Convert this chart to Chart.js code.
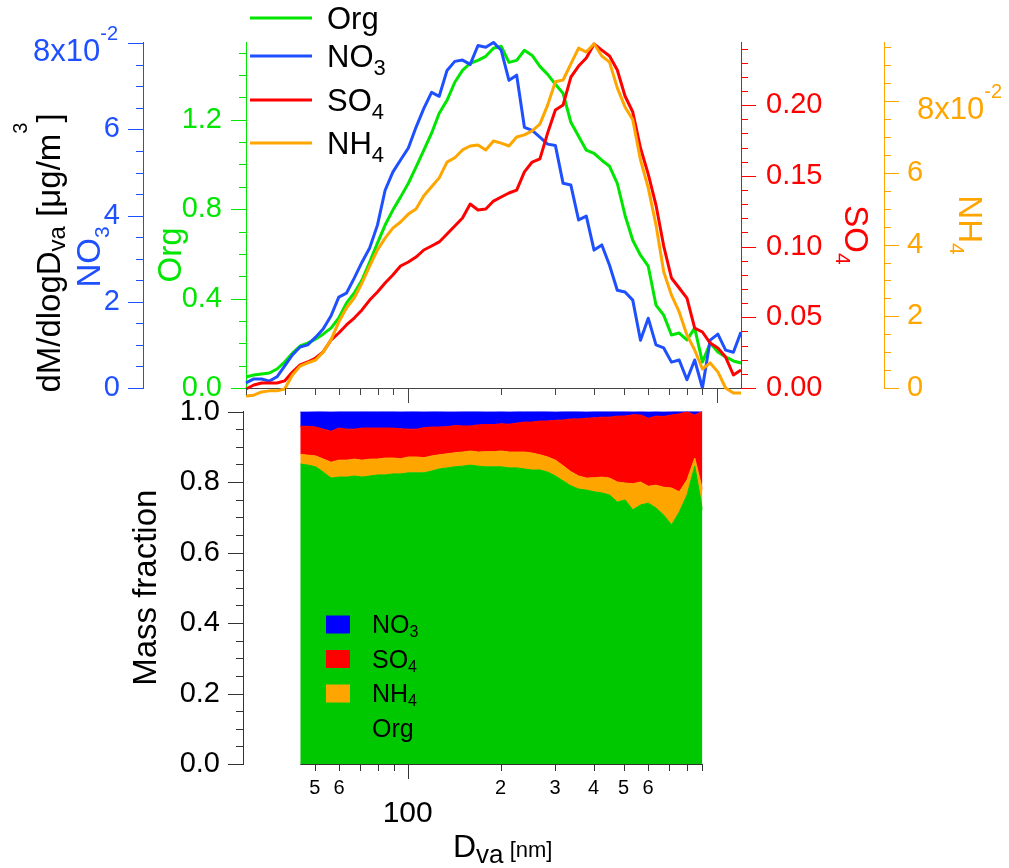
<!DOCTYPE html>
<html>
<head>
<meta charset="utf-8">
<title>Size-resolved aerosol composition</title>
<script src="https://cdn.jsdelivr.net/npm/chart.js@4.4.1/dist/chart.umd.min.js"></script>
<style>
  html, body { margin: 0; background: #fff; }
  #wrap { position: relative; width: 1009px; height: 868px; overflow: hidden; }
  canvas { position: absolute; left: 0; }
  #topChart { top: 0; }
  #fracChart { top: 395px; }
</style>
</head>
<body>
<div id="wrap">
  <canvas id="topChart" width="1009" height="420"></canvas>
  <canvas id="fracChart" width="1009" height="473"></canvas>
</div>
<script>
// vacuum aerodynamic diameter, nm
const sizeNm = [30.0, 31.8, 33.7, 35.7, 37.8, 40.0, 42.4, 44.9, 47.5, 50.4,
  53.3, 56.5, 59.9, 63.4, 67.2, 71.2, 75.4, 79.9, 84.6, 89.6,
  94.9, 100.6, 106.5, 112.9, 119.6, 126.6, 134.2, 142.2, 150.6, 159.5,
  169.0, 179.1, 189.7, 200.9, 212.9, 225.5, 238.9, 253.1, 268.1, 284.0,
  300.9, 318.7, 337.7, 357.7, 378.9, 401.4, 425.3, 450.5, 477.3, 505.6,
  535.6, 567.4, 601.1, 636.8, 674.6, 714.7, 757.1, 802.1, 849.7, 900.2,
  953.6, 1010, 1070, 1134, 1200]

// dM/dlogDva, ug/m3
const orgMass = [0.049, 0.058, 0.063, 0.067, 0.085, 0.116, 0.156, 0.188, 0.201, 0.219,
  0.241, 0.268, 0.313, 0.380, 0.425, 0.483, 0.563, 0.648, 0.729, 0.796,
  0.854, 0.916, 0.988, 1.064, 1.140, 1.229, 1.287, 1.368, 1.421, 1.453,
  1.466, 1.484, 1.520, 1.529, 1.457, 1.466, 1.511, 1.488, 1.439, 1.403,
  1.359, 1.318, 1.189, 1.126, 1.064, 1.050, 1.019, 0.992, 0.916, 0.773,
  0.661, 0.594, 0.545, 0.371, 0.326, 0.237, 0.246, 0.215, 0.268, 0.116,
  0.201, 0.161, 0.139, 0.121, 0.112]
const no3Mass = [0.0012, 0.0021, 0.0021, 0.0016, 0.0026, 0.0051, 0.0077, 0.0095, 0.0100, 0.0118,
  0.0137, 0.0167, 0.0211, 0.0220, 0.0255, 0.0292, 0.0325, 0.0378, 0.0459, 0.0501,
  0.0529, 0.0557, 0.0605, 0.0649, 0.0686, 0.0677, 0.0737, 0.0758, 0.0761, 0.0751,
  0.0795, 0.0791, 0.0802, 0.0784, 0.0714, 0.0726, 0.0605, 0.0598, 0.0582, 0.0566,
  0.0563, 0.0475, 0.0471, 0.0390, 0.0399, 0.0320, 0.0332, 0.0285, 0.0227, 0.0223,
  0.0204, 0.0111, 0.0162, 0.0100, 0.0093, 0.0060, 0.0065, 0.0019, 0.0065, 0.0000,
  0.0111, 0.0125, 0.0088, 0.0083, 0.0130]
const so4Mass = [-0.0007, 0.0021, 0.0035, 0.0035, 0.0035, 0.0050, 0.0113, 0.0163, 0.0184, 0.0212,
  0.0255, 0.0339, 0.0389, 0.0446, 0.0495, 0.0552, 0.0622, 0.0679, 0.0743, 0.0799,
  0.0863, 0.0891, 0.0926, 0.0976, 0.1004, 0.1033, 0.1089, 0.1146, 0.1202, 0.1301,
  0.1259, 0.1266, 0.1322, 0.1351, 0.1379, 0.1400, 0.1528, 0.1598, 0.1620, 0.1803,
  0.1966, 0.2001, 0.2199, 0.2277, 0.2334, 0.2433, 0.2390, 0.2348, 0.2249, 0.2065,
  0.1952, 0.1697, 0.1513, 0.1294, 0.1004, 0.0778, 0.0707, 0.0636, 0.0424, 0.0396,
  0.0318, 0.0283, 0.0219, 0.0092, 0.0127]
const nh4Mass = [-0.0022, -0.0020, -0.0011, -0.0008, -0.0008, -0.0003, 0.0036, 0.0061, 0.0070, 0.0078,
  0.0100, 0.0134, 0.0184, 0.0223, 0.0251, 0.0293, 0.0340, 0.0385, 0.0418, 0.0446,
  0.0463, 0.0485, 0.0499, 0.0536, 0.0561, 0.0586, 0.0630, 0.0642, 0.0664, 0.0675,
  0.0678, 0.0664, 0.0689, 0.0683, 0.0675, 0.0700, 0.0706, 0.0717, 0.0736, 0.0789,
  0.0854, 0.0859, 0.0904, 0.0948, 0.0937, 0.0960, 0.0926, 0.0909, 0.0837, 0.0784,
  0.0748, 0.0636, 0.0558, 0.0455, 0.0324, 0.0259, 0.0212, 0.0148, 0.0106, 0.0053,
  0.0070, 0.0045, 0.0000, -0.0014, -0.0014]

// mass fractions, 45-900 nm
const fracSize = sizeNm.slice(7, 60)
const orgFrac = [0.851, 0.848, 0.843, 0.828, 0.811, 0.814, 0.814, 0.817, 0.814, 0.817,
  0.820, 0.820, 0.823, 0.823, 0.826, 0.826, 0.826, 0.831, 0.837, 0.840,
  0.843, 0.845, 0.848, 0.845, 0.843, 0.843, 0.843, 0.840, 0.840, 0.837,
  0.834, 0.834, 0.828, 0.817, 0.803, 0.789, 0.780, 0.777, 0.772, 0.769,
  0.763, 0.743, 0.749, 0.721, 0.735, 0.740, 0.726, 0.706, 0.678, 0.715,
  0.763, 0.845, 0.721]
const nh4Frac = [0.028, 0.028, 0.031, 0.037, 0.045, 0.048, 0.048, 0.048, 0.048, 0.048,
  0.045, 0.048, 0.045, 0.043, 0.045, 0.045, 0.043, 0.043, 0.040, 0.040,
  0.040, 0.040, 0.040, 0.040, 0.043, 0.043, 0.045, 0.045, 0.045, 0.048,
  0.048, 0.043, 0.043, 0.045, 0.043, 0.040, 0.037, 0.034, 0.040, 0.045,
  0.048, 0.057, 0.048, 0.074, 0.065, 0.048, 0.065, 0.079, 0.105, 0.057,
  0.043, 0.023, 0.057]
const so4Frac = [0.079, 0.082, 0.082, 0.085, 0.088, 0.091, 0.088, 0.085, 0.091, 0.088,
  0.088, 0.085, 0.085, 0.085, 0.079, 0.079, 0.085, 0.082, 0.079, 0.077,
  0.077, 0.074, 0.071, 0.077, 0.077, 0.077, 0.077, 0.079, 0.082, 0.085,
  0.088, 0.096, 0.102, 0.113, 0.130, 0.150, 0.162, 0.170, 0.170, 0.170,
  0.173, 0.187, 0.190, 0.196, 0.190, 0.193, 0.196, 0.201, 0.207, 0.221,
  0.193, 0.122, 0.223]
const no3Frac = [0.041, 0.041, 0.044, 0.050, 0.055, 0.047, 0.050, 0.050, 0.047, 0.047,
  0.047, 0.047, 0.047, 0.050, 0.050, 0.050, 0.047, 0.044, 0.044, 0.044,
  0.041, 0.041, 0.041, 0.038, 0.038, 0.038, 0.035, 0.035, 0.033, 0.030,
  0.030, 0.027, 0.027, 0.024, 0.024, 0.021, 0.021, 0.018, 0.018, 0.016,
  0.016, 0.013, 0.013, 0.010, 0.010, 0.018, 0.013, 0.013, 0.010, 0.007,
  0.001, 0.010, 0.000]

// ticks
const orgTicks = [0, 0.4, 0.8, 1.2]
const orgTickLabels = ['0.0', '0.4', '0.8', '1.2']
const orgMinor = [0.1, 0.2, 0.3, 0.5, 0.6, 0.7, 0.9, 1.0, 1.1, 1.3, 1.4, 1.5]
const no3Ticks = [0, 0.02, 0.04, 0.06, 0.08]
const no3TickLabels = ['0', '2', '4', '6', '8x10-2']
const no3Minor = [0.005, 0.01, 0.015, 0.025, 0.03, 0.035, 0.045, 0.05, 0.055, 0.065, 0.07, 0.075]
const so4Ticks = [0, 0.05, 0.10, 0.15, 0.20]
const so4TickLabels = ['0.00', '0.05', '0.10', '0.15', '0.20']
const so4Minor = [0.01, 0.02, 0.03, 0.04, 0.06, 0.07, 0.08, 0.09, 0.11, 0.12, 0.13, 0.14,
  0.16, 0.17, 0.18, 0.19, 0.21, 0.22, 0.23, 0.24]
const nh4Ticks = [0, 0.02, 0.04, 0.06, 0.08]
const nh4TickLabels = ['0', '2', '4', '6', '8x10-2']
const nh4Minor = [0.005, 0.01, 0.015, 0.025, 0.03, 0.035, 0.045, 0.05, 0.055, 0.065, 0.07, 0.075, 0.085, 0.09, 0.095]
const sizeMajor = [100, 1000]
const sizeMinor = [30, 40, 50, 60, 70, 80, 90, 200, 300, 400, 500, 600, 700, 800, 900]
const fracTicks = [0, 0.2, 0.4, 0.6, 0.8, 1.0]
const fracTickLabels = ['0.0', '0.2', '0.4', '0.6', '0.8', '1.0']
const fracMinor = [0.05, 0.1, 0.15, 0.25, 0.3, 0.35, 0.45, 0.5, 0.55, 0.65, 0.7, 0.75, 0.85, 0.9, 0.95]
const fracSizeTicks = [50, 60, 100, 200, 300, 400, 500, 600]
const fracSizeLabels = ['5', '6', '100', '2', '3', '4', '5', '6']
const fracSizeMajor = [100]
const fracSizeMinor = [50, 60, 70, 80, 90, 200, 300, 400, 500, 600, 700, 800, 900]

const FONT = '"Liberation Sans", Arial, Helvetica, sans-serif'
const BLUE = '#1e50ff'
const GREEN = '#00e600'
const RED = '#ff0000'
const ORANGE = '#ffa500'
const AXIS = '#444'

Chart.defaults.font.family = FONT

// text with sub/superscripts, parts = [{t, size, dy}]
function drawParts(ctx, parts, x, y, rot, color, align) {
  ctx.save()
  ctx.translate(x, y)
  ctx.rotate(rot || 0)
  ctx.fillStyle = color
  ctx.textBaseline = 'alphabetic'
  ctx.textAlign = 'left'
  let total = 0
  parts.forEach(p => {
    ctx.font = p.size + 'px ' + FONT
    p.w = ctx.measureText(p.t).width
    total += p.w
  })
  let cx = align == 'center' ? -total / 2 : (align == 'right' ? -total : 0)
  parts.forEach(p => {
    ctx.font = p.size + 'px ' + FONT
    ctx.fillText(p.t, cx, p.dy || 0)
    cx += p.w
  })
  ctx.restore()
}

// 'NO3' -> NO + subscript 3
function chemParts(label, size, subSize, subDy) {
  const m = label.match(/^(.*?)(\d*)$/)
  const parts = [{ t: m[1], size: size }]
  if (m[2]) parts.push({ t: m[2], size: subSize, dy: subDy })
  return parts
}

function drawTicks(chart, id, major, minor, side, color) {
  const s = chart.scales[id]
  const ctx = chart.ctx
  ctx.save()
  ctx.strokeStyle = color
  ctx.lineWidth = 1
  const all = major.map(v => [v, 15]).concat(minor.map(v => [v, 7]))
  all.forEach(([v, len]) => {
    const p = Math.round(s.getPixelForValue(v)) + 0.5
    ctx.beginPath()
    if (side == 'left') { ctx.moveTo(s.right, p); ctx.lineTo(s.right - len, p) }
    else if (side == 'right') { ctx.moveTo(s.left, p); ctx.lineTo(s.left + len, p) }
    else { ctx.moveTo(p, s.top); ctx.lineTo(p, s.top + len) }
    ctx.stroke()
  })
  ctx.restore()
}

// labels like 8x10-2 get a raised exponent
function drawExpLabel(chart, id, values, labels, x, align, color) {
  const s = chart.scales[id]
  labels.forEach((lab, i) => {
    if (!lab.includes('x10')) return
    const cut = lab.indexOf('x10') + 3
    const y = s.getPixelForValue(values[i]) + 18
    drawParts(chart.ctx, [{ t: lab.slice(0, cut), size: 31 }, { t: lab.slice(cut), size: 20, dy: -21 }], x, y, 0, color, align)
  })
}

// fixed box sizes, no extra label padding from chart.js
const fixWidth = w => s => { s.width = w; s.paddingTop = 0; s.paddingBottom = 0 }
const fixHeight = h => s => { s.height = h; s.paddingLeft = 0; s.paddingRight = 0 }

function yAxis(pos, weight, max, color, values, labels, pad, width) {
  return {
    position: pos,
    weight: weight,
    min: 0,
    max: max,
    grid: { display: false, drawTicks: false },
    border: { color: color, width: 1 },
    ticks: {
      color: color,
      padding: pad,
      font: { size: 29 },
      callback: (v, i) => labels[i].includes('x10') ? '' : labels[i]
    },
    afterBuildTicks: s => { s.ticks = values.map(v => ({ value: v })) },
    afterFit: fixWidth(width)
  }
}

const topDecor = {
  id: 'topDecor',
  afterDraw(chart) {
    const ctx = chart.ctx
    const ds = chart.data.datasets
    drawTicks(chart, 'x', sizeMajor, sizeMinor, 'bottom', AXIS)
    drawTicks(chart, 'yNO3', no3Ticks, no3Minor, 'left', BLUE)
    drawTicks(chart, 'yOrg', orgTicks, orgMinor, 'left', GREEN)
    drawTicks(chart, 'ySO4', so4Ticks, so4Minor, 'right', RED)
    drawTicks(chart, 'yNH4', nh4Ticks, nh4Minor, 'right', ORANGE)
    drawExpLabel(chart, 'yNO3', no3Ticks, no3TickLabels, 118, 'right', BLUE)
    drawExpLabel(chart, 'yNH4', nh4Ticks, nh4TickLabels, 917, 'left', ORANGE)

    // axis titles
    drawParts(ctx, [
      { t: 'dM/dlogD', size: 33 }, { t: 'va', size: 24, dy: 5 },
      { t: ' [μg/m', size: 33 }, { t: '3', size: 20, dy: -33 }, { t: ']', size: 33 }
    ], 60, 253, -Math.PI / 2, '#000', 'center')
    drawParts(ctx, chemParts(ds[1].label, 33, 21, 9), 100, 257, -Math.PI / 2, BLUE, 'center')
    drawParts(ctx, chemParts(ds[0].label, 33, 21, 9), 181, 255, -Math.PI / 2, GREEN, 'center')
    drawParts(ctx, chemParts(ds[2].label, 33, 21, 9), 845, 235, Math.PI / 2, RED, 'center')
    drawParts(ctx, chemParts(ds[3].label, 33, 21, 9), 959, 225, Math.PI / 2, ORANGE, 'center')

    // legend
    const rows = [18, 56, 100, 143]
    ds.forEach((d, i) => {
      ctx.save()
      ctx.strokeStyle = d.borderColor
      ctx.lineWidth = 3
      ctx.beginPath()
      ctx.moveTo(250, rows[i])
      ctx.lineTo(312, rows[i])
      ctx.stroke()
      ctx.restore()
      drawParts(ctx, chemParts(d.label, 31, 22, 8), 327, rows[i] + 11, 0, '#000', 'left')
    })
  }
}

const pts = arr => sizeNm.map((d, i) => ({ x: d, y: arr[i] }))

const topChart = new Chart(document.getElementById('topChart'), {
  type: 'line',
  data: {
    datasets: [
      { label: 'Org', data: pts(orgMass), yAxisID: 'yOrg', borderColor: GREEN, order: 3, clip: false },
      { label: 'NO3', data: pts(no3Mass), yAxisID: 'yNO3', borderColor: BLUE, order: 2, clip: false },
      { label: 'SO4', data: pts(so4Mass), yAxisID: 'ySO4', borderColor: RED, order: 1, clip: false },
      { label: 'NH4', data: pts(nh4Mass), yAxisID: 'yNH4', borderColor: ORANGE, order: 0, clip: false }
    ]
  },
  options: {
    animation: false,
    responsive: false,
    events: [],
    layout: { padding: { top: 42, left: 0, right: 0, bottom: 0 } },
    elements: {
      line: { borderWidth: 3, tension: 0, borderJoinStyle: 'round', fill: false },
      point: { radius: 0 }
    },
    plugins: { legend: { display: false }, tooltip: { enabled: false } },
    scales: {
      x: {
        type: 'logarithmic',
        position: 'bottom',
        min: 30,
        max: 1200,
        ticks: { display: false },
        grid: { display: false, drawTicks: false },
        border: { color: AXIS, width: 1 },
        afterFit: fixHeight(32)
      },
      yNO3: yAxis('left', 2, 0.0803, BLUE, no3Ticks, no3TickLabels, 23, 143),
      yOrg: yAxis('left', 1, 1.548, GREEN, orgTicks, orgTickLabels, 24, 103),
      ySO4: yAxis('right', 1, 0.2447, RED, so4Ticks, so4TickLabels, 25, 143),
      yNH4: yAxis('right', 2, 0.0965, ORANGE, nh4Ticks, nh4TickLabels, 23, 125)
    }
  },
  plugins: [topDecor]
})

// ---- mass fraction panel ----
const F_GREEN = '#00c800'
const F_ORANGE = '#ffa500'
const F_RED = '#ff0000'
const F_BLUE = '#0000ff'

const fracDecor = {
  id: 'fracDecor',
  afterDraw(chart) {
    const ctx = chart.ctx
    const xs = chart.scales.x
    const y0 = Math.round(chart.chartArea.bottom) + 0.5
    ctx.save()
    ctx.strokeStyle = '#333'
    ctx.lineWidth = 1
    ctx.beginPath()
    ctx.moveTo(xs.getPixelForValue(fracSize[0]), y0)
    ctx.lineTo(xs.getPixelForValue(fracSize[fracSize.length - 1]), y0)
    ctx.stroke()
    ctx.restore()
    drawTicks(chart, 'x', fracSizeMajor, fracSizeMinor, 'bottom', '#333')
    drawTicks(chart, 'y', fracTicks, fracMinor, 'left', '#333')

    // legend, top entry first
    const ds = chart.data.datasets.slice().reverse()
    ds.forEach((d, i) => {
      const cy = 229.5 + i * 34.5
      ctx.fillStyle = d.backgroundColor
      ctx.fillRect(326, cy - 9, 24, 18)
      drawParts(ctx, chemParts(d.label, 25, 16, 4), 372, cy + 8.5, 0, '#000', 'left')
    })

    drawParts(ctx, [{ t: 'D', size: 32 }, { t: 'va', size: 26, dy: 6 }, { t: ' [nm]', size: 22 }],
      453, 462, 0, '#000', 'left')
  }
}

const fpts = arr => fracSize.map((d, i) => ({ x: d, y: arr[i] }))

const fracChart = new Chart(document.getElementById('fracChart'), {
  type: 'line',
  data: {
    datasets: [
      { label: 'Org', data: fpts(orgFrac), backgroundColor: F_GREEN, borderColor: F_GREEN, fill: 'origin' },
      { label: 'NH4', data: fpts(nh4Frac), backgroundColor: F_ORANGE, borderColor: F_ORANGE, fill: '-1' },
      { label: 'SO4', data: fpts(so4Frac), backgroundColor: F_RED, borderColor: F_RED, fill: '-1' },
      { label: 'NO3', data: fpts(no3Frac), backgroundColor: F_BLUE, borderColor: F_BLUE, fill: '-1' }
    ]
  },
  options: {
    animation: false,
    responsive: false,
    events: [],
    layout: { padding: { top: 16.5, left: 0, right: 306.5, bottom: 0 } },
    elements: {
      line: { borderWidth: 1, tension: 0 },
      point: { radius: 0 }
    },
    plugins: { legend: { display: false }, tooltip: { enabled: false } },
    scales: {
      x: {
        type: 'logarithmic',
        min: 29.3,
        max: 900.2,
        grid: { display: false, drawTicks: false },
        border: { display: false },
        ticks: {
          color: '#000',
          padding: 12.6,
          autoSkip: false,
          maxRotation: 0,
          minRotation: 0,
          font: ctx => (ctx.tick && ctx.tick.value == 100) ? { size: 30, lineHeight: 0.83 } : { size: 20 },
          callback: (v, i) => fracSizeLabels[i] == '100' ? ['', '100'] : fracSizeLabels[i]
        },
        afterBuildTicks: s => { s.ticks = fracSizeTicks.map(v => ({ value: v })) },
        afterFit: fixHeight(104)
      },
      y: {
        stacked: true,
        min: 0,
        max: 1,
        grid: { display: false, drawTicks: false },
        border: { color: '#333', width: 1 },
        ticks: {
          color: '#000',
          padding: 23,
          font: { size: 29 },
          callback: (v, i) => fracTickLabels[i]
        },
        title: {
          display: true,
          text: 'Mass fraction',
          color: '#000',
          font: { size: 33 },
          padding: { top: 127, bottom: 0 }
        },
        afterBuildTicks: s => { s.ticks = fracTicks.map(v => ({ value: v })) },
        afterFit: fixWidth(243)
      }
    }
  },
  plugins: [fracDecor]
})
</script>
</body>
</html>
